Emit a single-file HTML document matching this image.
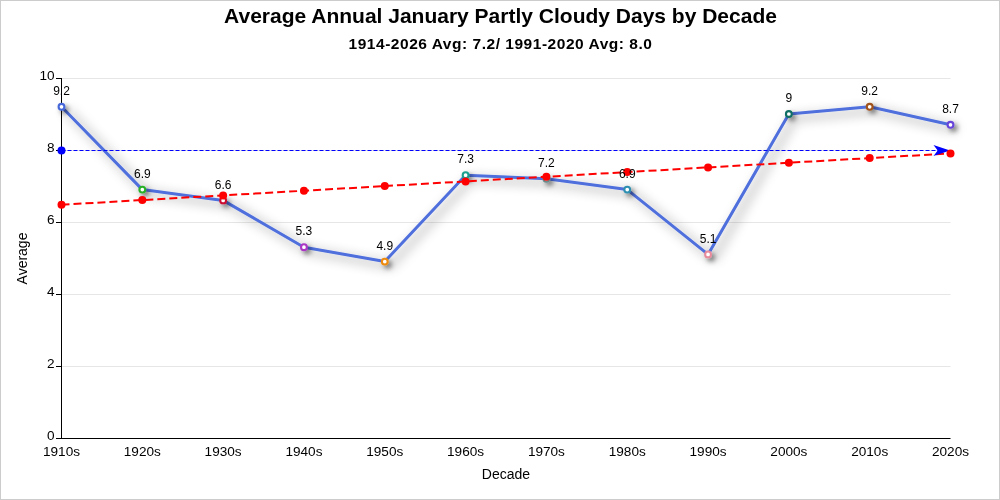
<!DOCTYPE html>
<html lang="en"><head><meta charset="utf-8"><title>Average Annual January Partly Cloudy Days by Decade</title>
<style>
html,body{margin:0;padding:0;background:#fff}
#chart{position:relative;width:1000px;height:500px;box-sizing:border-box;border:1px solid #ccc;background:#fff;overflow:hidden}
#chart svg{position:absolute;left:-1px;top:-1px}
text{font-family:"Liberation Sans","Noto Sans CJK SC",sans-serif;fill:#000}
.t1{font-size:21px;font-weight:bold}
.t2{font-size:15.5px;font-weight:bold;letter-spacing:0.53px}
.ax{font-size:13.6px}
.an{font-size:14px}
.lb{font-size:12px}
</style></head><body>
<div id="chart">
<svg width="1000" height="500" viewBox="0 0 1000 500">
<defs><filter id="sh" x="-5%" y="-20%" width="110%" height="140%"><feDropShadow dx="5.5" dy="4" stdDeviation="5.8" flood-color="#000" flood-opacity="0.48"/></filter>
<filter id="sh2" x="-5%" y="-20%" width="110%" height="140%"><feDropShadow dx="3" dy="3" stdDeviation="2.5" flood-color="#000" flood-opacity="0.5"/></filter></defs>

<line x1="61.5" y1="366.5" x2="950.5" y2="366.5" stroke="#e6e6e6" stroke-width="1"/>
<line x1="61.5" y1="294.5" x2="950.5" y2="294.5" stroke="#e6e6e6" stroke-width="1"/>
<line x1="61.5" y1="222.5" x2="950.5" y2="222.5" stroke="#e6e6e6" stroke-width="1"/>
<line x1="61.5" y1="150.5" x2="950.5" y2="150.5" stroke="#e6e6e6" stroke-width="1"/>
<line x1="61.5" y1="78.5" x2="950.5" y2="78.5" stroke="#e6e6e6" stroke-width="1"/>
<line x1="61.5" y1="78.0" x2="61.5" y2="439.0" stroke="#000" stroke-width="1"/>
<line x1="61.0" y1="438.5" x2="950.5" y2="438.5" stroke="#000" stroke-width="1"/>
<line x1="56.0" y1="438.5" x2="61.5" y2="438.5" stroke="#000" stroke-width="1"/>
<text class="ax" x="54.6" y="440.4" text-anchor="end">0</text>
<line x1="56.0" y1="366.5" x2="61.5" y2="366.5" stroke="#000" stroke-width="1"/>
<text class="ax" x="54.6" y="368.4" text-anchor="end">2</text>
<line x1="56.0" y1="294.5" x2="61.5" y2="294.5" stroke="#000" stroke-width="1"/>
<text class="ax" x="54.6" y="296.4" text-anchor="end">4</text>
<line x1="56.0" y1="222.5" x2="61.5" y2="222.5" stroke="#000" stroke-width="1"/>
<text class="ax" x="54.6" y="224.4" text-anchor="end">6</text>
<line x1="56.0" y1="150.5" x2="61.5" y2="150.5" stroke="#000" stroke-width="1"/>
<text class="ax" x="54.6" y="152.4" text-anchor="end">8</text>
<line x1="56.0" y1="78.5" x2="61.5" y2="78.5" stroke="#000" stroke-width="1"/>
<text class="ax" x="54.6" y="80.4" text-anchor="end">10</text>
<text class="ax" x="61.50" y="456" text-anchor="middle">1910s</text>
<text class="ax" x="142.32" y="456" text-anchor="middle">1920s</text>
<text class="ax" x="223.14" y="456" text-anchor="middle">1930s</text>
<text class="ax" x="303.95" y="456" text-anchor="middle">1940s</text>
<text class="ax" x="384.77" y="456" text-anchor="middle">1950s</text>
<text class="ax" x="465.59" y="456" text-anchor="middle">1960s</text>
<text class="ax" x="546.41" y="456" text-anchor="middle">1970s</text>
<text class="ax" x="627.23" y="456" text-anchor="middle">1980s</text>
<text class="ax" x="708.05" y="456" text-anchor="middle">1990s</text>
<text class="ax" x="788.86" y="456" text-anchor="middle">2000s</text>
<text class="ax" x="869.68" y="456" text-anchor="middle">2010s</text>
<text class="ax" x="950.50" y="456" text-anchor="middle">2020s</text>
<text class="an" x="506" y="479" text-anchor="middle">Decade</text>
<text class="an" transform="translate(27.3 258.5) rotate(-90)" text-anchor="middle">Average</text>
<polyline points="61.50,106.80 142.32,189.60 223.14,200.40 303.95,247.20 384.77,261.60 465.59,175.20 546.41,178.80 627.23,189.60 708.05,254.40 788.86,114.00 869.68,106.80 950.50,124.80" fill="none" stroke="#4f6fdc" stroke-width="3" stroke-linejoin="bevel" filter="url(#sh)"/>
<g filter="url(#sh2)">
<circle cx="61.50" cy="106.80" r="2.9" fill="#fff" stroke="#4767d8" stroke-width="2.1"/>
<circle cx="142.32" cy="189.60" r="2.9" fill="#fff" stroke="#27b127" stroke-width="2.1"/>
<circle cx="223.14" cy="200.40" r="2.9" fill="#fff" stroke="#cc1133" stroke-width="2.1"/>
<circle cx="303.95" cy="247.20" r="2.9" fill="#fff" stroke="#aa38c4" stroke-width="2.1"/>
<circle cx="384.77" cy="261.60" r="2.9" fill="#fff" stroke="#ee8a0c" stroke-width="2.1"/>
<circle cx="465.59" cy="175.20" r="2.9" fill="#fff" stroke="#1aa08e" stroke-width="2.1"/>
<circle cx="546.41" cy="178.80" r="2.9" fill="#fff" stroke="#6a8a8a" stroke-width="2.1"/>
<circle cx="627.23" cy="189.60" r="2.9" fill="#fff" stroke="#2f8fb0" stroke-width="2.1"/>
<circle cx="708.05" cy="254.40" r="2.9" fill="#fff" stroke="#e88a9c" stroke-width="2.1"/>
<circle cx="788.86" cy="114.00" r="2.9" fill="#fff" stroke="#0f6e64" stroke-width="2.1"/>
<circle cx="869.68" cy="106.80" r="2.9" fill="#fff" stroke="#a0521a" stroke-width="2.1"/>
<circle cx="950.50" cy="124.80" r="2.9" fill="#fff" stroke="#6645d8" stroke-width="2.1"/>
</g>
<polyline points="61.50,204.72 142.32,200.06 223.14,195.39 303.95,190.73 384.77,186.07 465.59,181.40 546.41,176.74 627.23,172.07 708.05,167.41 788.86,162.75 869.68,158.08 950.50,153.42" fill="none" stroke="#ff0000" stroke-width="2" stroke-dasharray="8 4"/>
<line x1="61.5" y1="150.5" x2="950.5" y2="150.5" stroke="#0000ff" stroke-width="1" stroke-dasharray="4 2"/>
<circle cx="61.5" cy="150.5" r="4" fill="#0000ff"/>
<polygon points="950.0,150.5 933.5,144.9 937.7,150.5 933.5,156.1" fill="#0000ff"/>
<circle cx="61.50" cy="204.72" r="4" fill="#ff0000"/>
<circle cx="142.32" cy="200.06" r="4" fill="#ff0000"/>
<circle cx="223.14" cy="195.39" r="4" fill="#ff0000"/>
<circle cx="303.95" cy="190.73" r="4" fill="#ff0000"/>
<circle cx="384.77" cy="186.07" r="4" fill="#ff0000"/>
<circle cx="465.59" cy="181.40" r="4" fill="#ff0000"/>
<circle cx="546.41" cy="176.74" r="4" fill="#ff0000"/>
<circle cx="627.23" cy="172.07" r="4" fill="#ff0000"/>
<circle cx="708.05" cy="167.41" r="4" fill="#ff0000"/>
<circle cx="788.86" cy="162.75" r="4" fill="#ff0000"/>
<circle cx="869.68" cy="158.08" r="4" fill="#ff0000"/>
<circle cx="950.50" cy="153.42" r="4" fill="#ff0000"/>
<text class="lb" x="61.50" y="95.00" text-anchor="middle">9.2</text>
<text class="lb" x="142.32" y="177.80" text-anchor="middle">6.9</text>
<text class="lb" x="223.14" y="188.60" text-anchor="middle">6.6</text>
<text class="lb" x="303.95" y="235.40" text-anchor="middle">5.3</text>
<text class="lb" x="384.77" y="249.80" text-anchor="middle">4.9</text>
<text class="lb" x="465.59" y="163.40" text-anchor="middle">7.3</text>
<text class="lb" x="546.41" y="167.00" text-anchor="middle">7.2</text>
<text class="lb" x="627.23" y="177.80" text-anchor="middle">6.9</text>
<text class="lb" x="708.05" y="242.60" text-anchor="middle">5.1</text>
<text class="lb" x="788.86" y="102.20" text-anchor="middle">9</text>
<text class="lb" x="869.68" y="95.00" text-anchor="middle">9.2</text>
<text class="lb" x="950.50" y="113.00" text-anchor="middle">8.7</text>
<text class="t1" x="500.5" y="23" text-anchor="middle">Average Annual January Partly Cloudy Days by Decade</text>
<text class="t2" x="500.5" y="49" text-anchor="middle">1914-2026 Avg: 7.2/ 1991-2020 Avg: 8.0</text>
</svg>
</div>
</body></html>
